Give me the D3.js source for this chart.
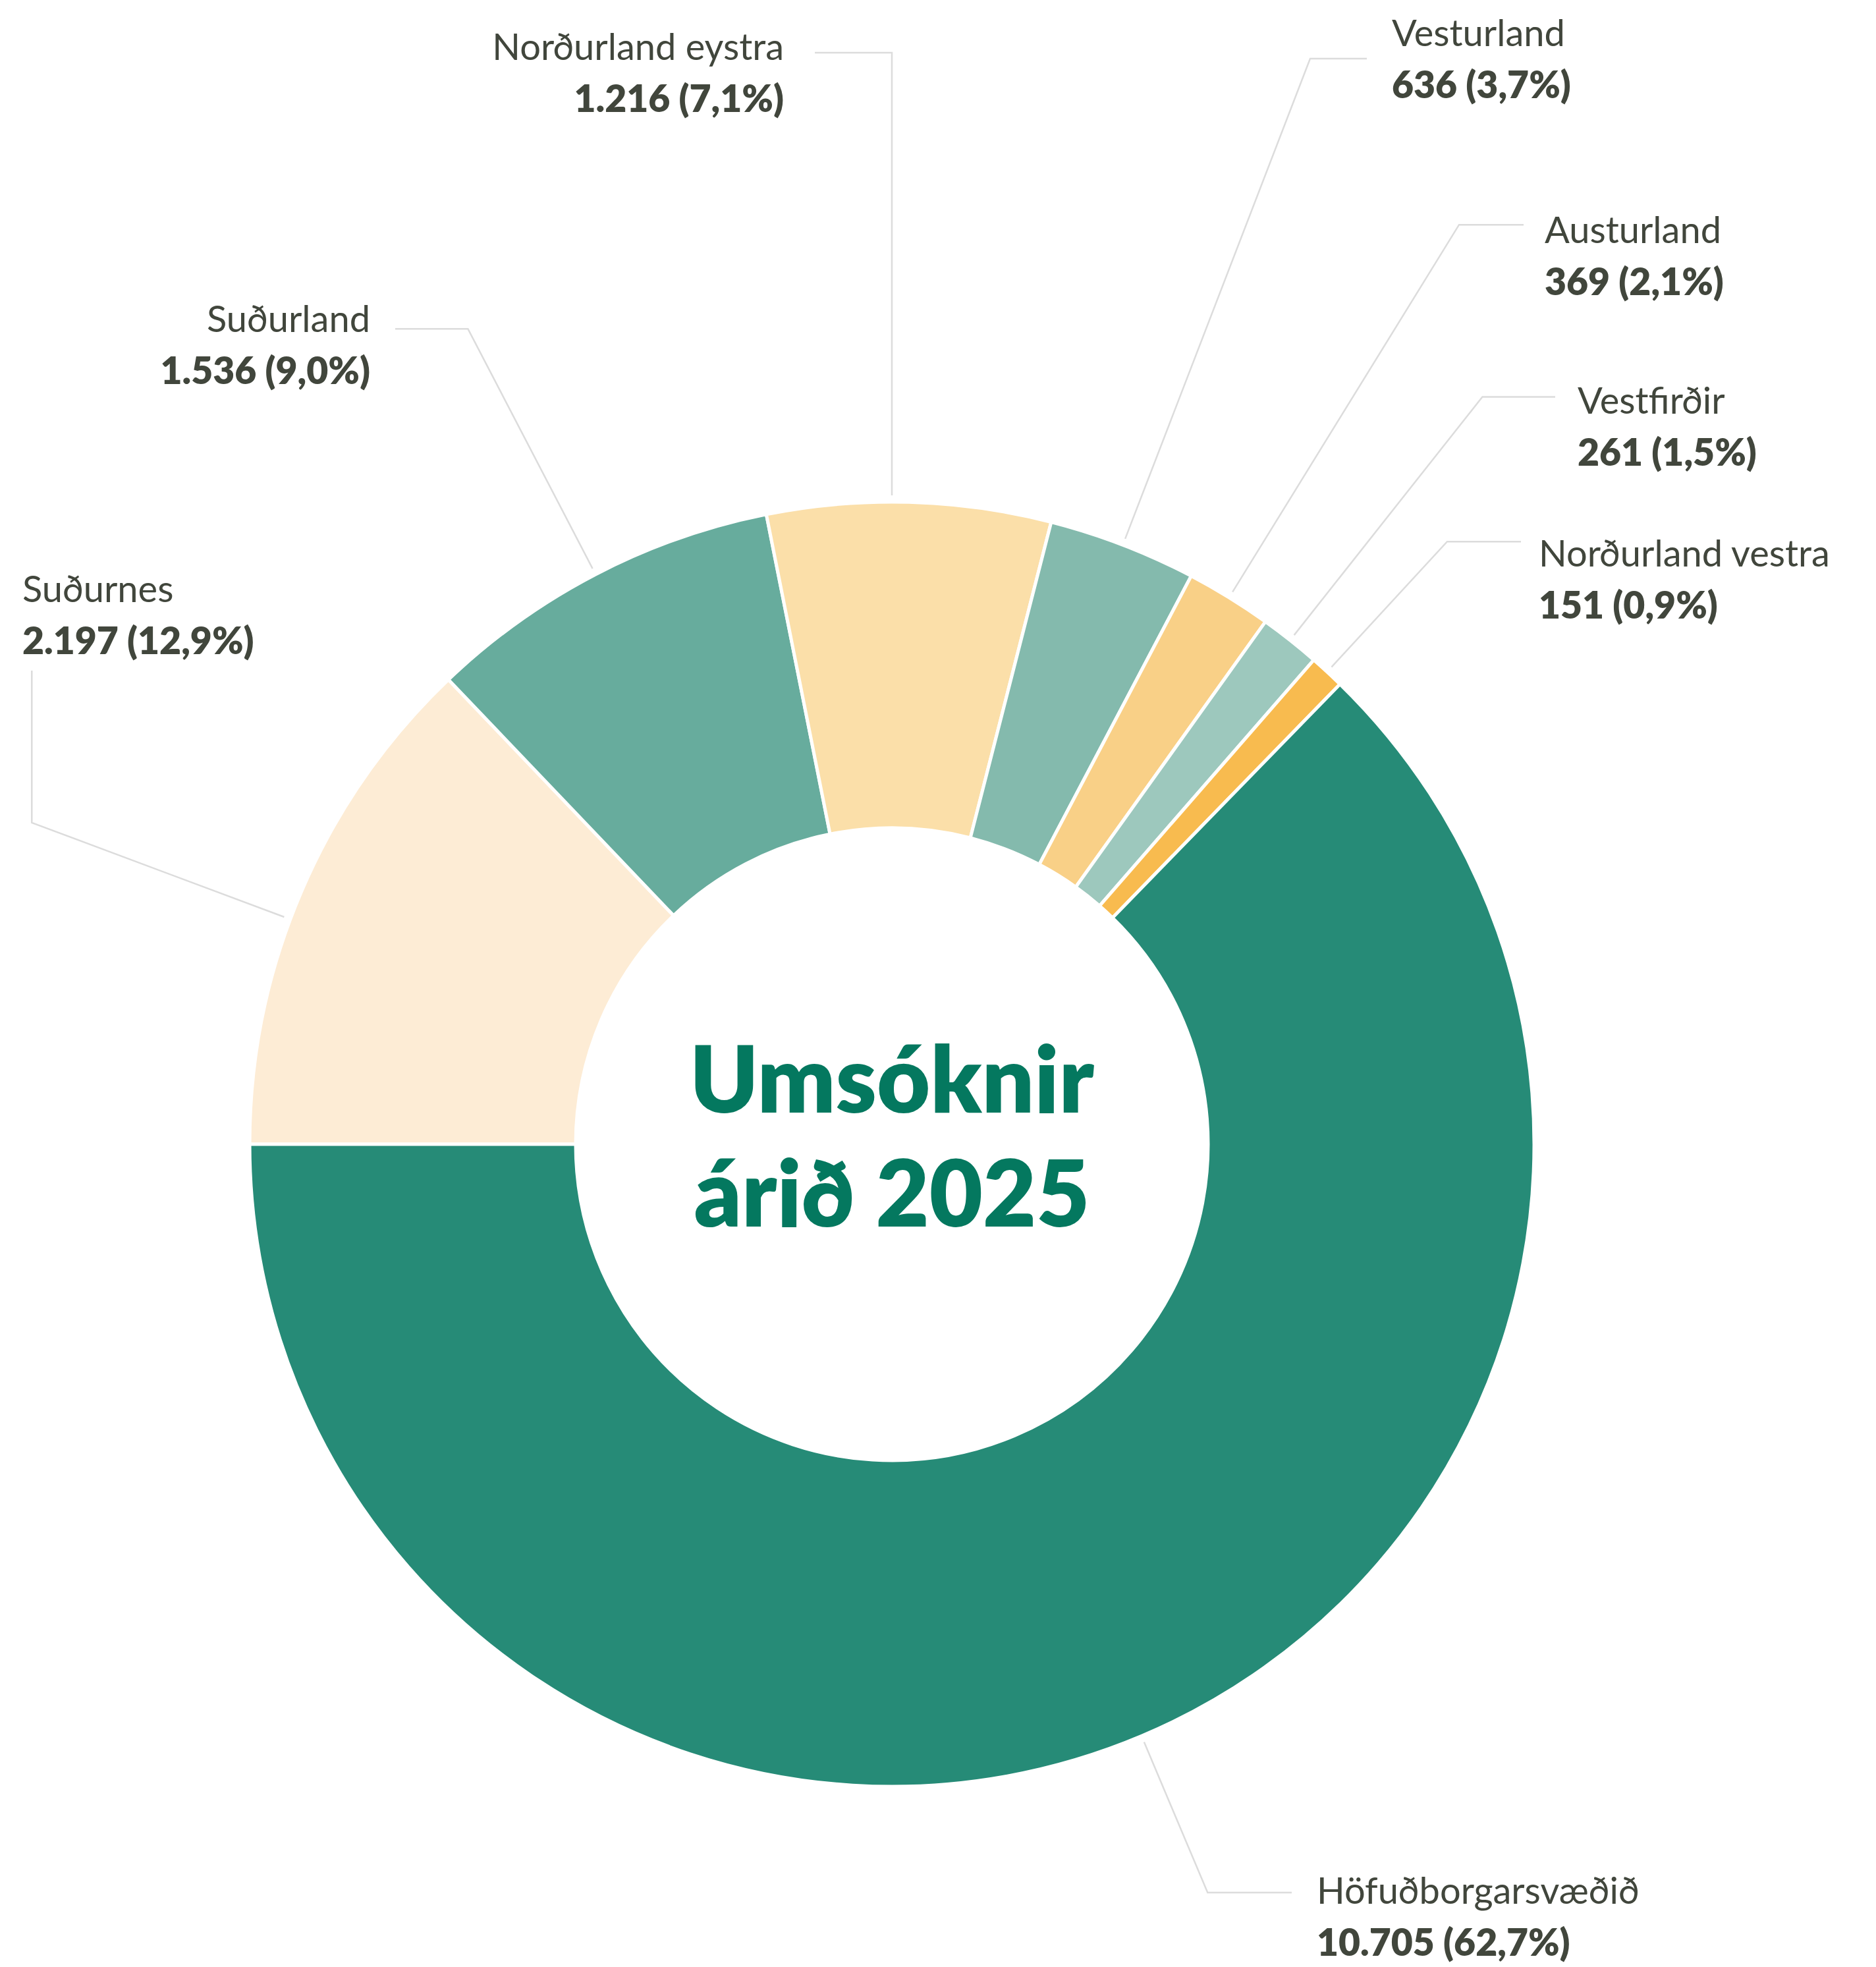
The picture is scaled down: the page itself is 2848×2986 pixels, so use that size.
<!DOCTYPE html>
<html>
<head>
<meta charset="utf-8">
<script src="https://cdn.jsdelivr.net/npm/d3@7"></script>
<style>
  html, body { margin: 0; padding: 0; background: #fff; }
  svg { display: block; }
  .name { font-family: Lato, "Noto Sans", sans-serif; font-weight: 400; fill: #41463c; }
  .val { font-family: Lato, "Noto Sans", sans-serif; font-weight: 800; fill: #41463c; }
  .title { font-family: Lato, "Noto Sans", sans-serif; font-weight: 800; fill: #04785f; }
</style>
</head>
<body>
<svg id="chart"></svg>
<script>
// data
const regions = ["Suðurnes", "Suðurland", "Norðurland eystra", "Vesturland", "Austurland", "Vestfirðir", "Norðurland vestra", "Höfuðborgarsvæðið"];
const counts = [2197, 1536, 1216, 636, 369, 261, 151, 10705];
const shares = [12.9, 9.0, 7.1, 3.7, 2.1, 1.5, 0.9, 62.7];
const colors = ["#fdecd5", "#67ac9d", "#fbdfa9", "#84baad", "#f9d087", "#9dc8bd", "#f8bb4f", "#268b77"];
const titleLines = ["Umsóknir", "árið 2025"];

// label layout: leader angle override (deg), elbow radius, tail end, text anchor + position
const labelLayout = [
  {a: -69.5, r: 1394, ty: 1018, anchor: "start", x: 34,   y: 914},
  {r: 1395, tx: 600,  anchor: "end",   x: 562,  y: 504},
  {a: 0, r: 1657, tx: 1237, anchor: "end",   x: 1190, y: 91},
  {r: 1766, tx: 2075, anchor: "start", x: 2113, y: 70},
  {r: 1640, tx: 2313, anchor: "start", x: 2345, y: 369},
  {r: 1446, tx: 2361, anchor: "start", x: 2395, y: 628},
  {r: 1244, tx: 2309, anchor: "start", x: 2336, y: 860},
  {r: 1233, tx: 1961, anchor: "start", x: 1999, y: 2890}
];

const width = 2848, height = 2986;
const cx = 1354, cy = 1737;
const outerR = 975, innerR = 480;

const svg = d3.select("#chart").attr("width", width).attr("height", height);
const g = svg.append("g").attr("transform", "translate(" + cx + "," + cy + ")");

const locale = d3.formatLocale({decimal: ",", thousands: ".", grouping: [3], currency: ["", ""]});
const fmtNum = locale.format(",d");
const fmtPct = locale.format(".1f");

const data = regions.map((name, i) => ({name: name, value: counts[i], pct: shares[i], color: colors[i], lay: labelLayout[i]}));

const pie = d3.pie().sort(null).value(d => d.value)
  .startAngle(-Math.PI / 2).endAngle(Math.PI * 1.5);
const arcs = pie(data);

const arc = d3.arc().innerRadius(innerR).outerRadius(outerR);

g.selectAll("path.slice")
  .data(arcs)
  .enter().append("path")
    .attr("class", "slice")
    .attr("d", arc)
    .attr("fill", d => d.data.color)
    .attr("stroke", "#fff")
    .attr("stroke-width", 5)
    .attr("stroke-linejoin", "round");

// leader lines: radial from just outside the ring to an elbow, then a straight tail
const pt = (a, r) => [Math.sin(a) * r, -Math.cos(a) * r];
g.selectAll("polyline.leader")
  .data(arcs)
  .enter().append("polyline")
    .attr("class", "leader")
    .attr("fill", "none")
    .attr("stroke", "#dcdcdc")
    .attr("stroke-width", 2.5)
    .attr("points", d => {
      const lay = d.data.lay;
      const mid = lay.a != null ? lay.a * Math.PI / 180 : (d.startAngle + d.endAngle) / 2;
      const p0 = pt(mid, outerR + 10);
      const p1 = pt(mid, lay.r);
      let p2;
      if (lay.ty != null) p2 = [p1[0], lay.ty - cy];
      else p2 = [lay.tx - cx, p1[1]];
      return [p0, p1, p2].map(p => p.join(",")).join(" ");
    });

const labels = svg.selectAll("g.label")
  .data(arcs)
  .enter().append("g")
    .attr("class", "label");

labels.append("text")
  .attr("class", "name")
  .attr("x", d => d.data.lay.x)
  .attr("y", d => d.data.lay.y)
  .attr("text-anchor", d => d.data.lay.anchor)
  .attr("font-size", 56)
  .text(d => d.data.name);

labels.append("text")
  .attr("class", "val")
  .attr("x", d => d.data.lay.x)
  .attr("y", d => d.data.lay.y + 79)
  .attr("text-anchor", d => d.data.lay.anchor)
  .attr("font-size", 57)
  .text(d => fmtNum(d.data.value) + " (" + fmtPct(d.data.pct) + "%)");

svg.selectAll("text.title")
  .data(titleLines)
  .enter().append("text")
    .attr("class", "title")
    .attr("x", cx)
    .attr("y", (d, i) => 1689 + i * 173)
    .attr("text-anchor", "middle")
    .attr("font-size", 140)
    .text(d => d);
</script>
</body>
</html>
